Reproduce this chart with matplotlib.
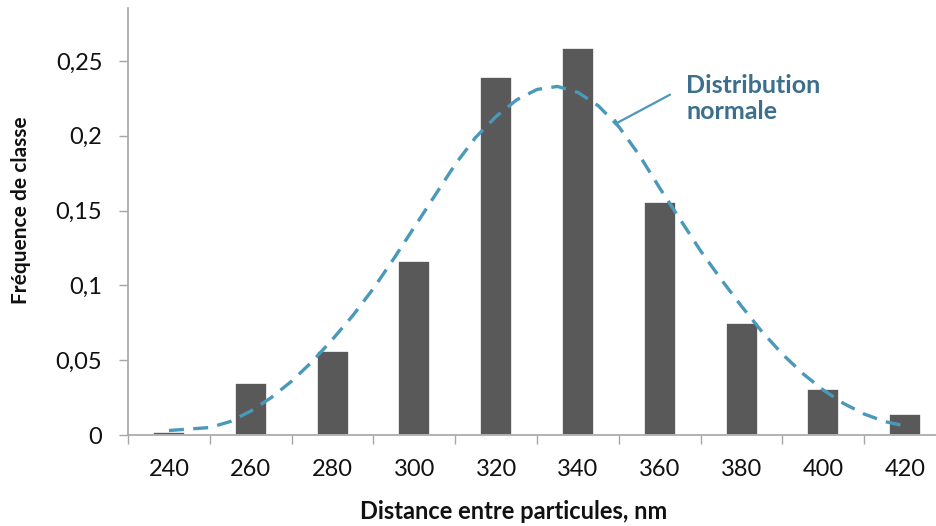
import matplotlib
matplotlib.use("Agg")
import matplotlib.pyplot as plt

# Class centres (nm) and class frequency
distances = [240, 260, 280, 300, 320, 340, 360, 380, 400, 420]
frequences = [0.002, 0.035, 0.056, 0.116, 0.239, 0.259, 0.156, 0.075, 0.031, 0.014]

# Normal distribution curve, every 5 nm
courbe_x = [240, 245, 250, 255, 260, 265, 270, 275, 280, 285, 290, 295, 300,
            305, 310, 315, 320, 325, 330, 335, 340, 345, 350, 355, 360, 365,
            370, 375, 380, 385, 390, 395, 400, 405, 410, 415, 420]
courbe_y = [0.003, 0.004, 0.005, 0.009, 0.016, 0.025, 0.036, 0.049, 0.064,
            0.080, 0.098, 0.118, 0.139, 0.160, 0.181, 0.199, 0.213, 0.224,
            0.231, 0.233, 0.229, 0.220, 0.206, 0.187, 0.165, 0.144, 0.123,
            0.104, 0.086, 0.069, 0.054, 0.041, 0.030, 0.021, 0.014, 0.009, 0.006]

y_ticks = [0, 0.05, 0.1, 0.15, 0.2, 0.25]
y_labels = ["0", "0,05", "0,1", "0,15", "0,2", "0,25"]

plt.rcParams['font.family'] = ['Lato', 'DejaVu Sans']

fig = plt.figure(figsize=(9.36, 5.26), dpi=100)
ax = fig.add_axes([0.1368, 0.173, 0.874, 0.812])

ax.bar(distances, frequences, width=7.8, color='#595959',
       edgecolor='white', linewidth=1.2, zorder=2)
ax.plot(courbe_x, courbe_y, color='#4A98BA', lw=2.4,
        dashes=(4.5, 2.8), zorder=3)

ax.set_xlim(230, 430)
ax.set_ylim(0, 0.2855)

ax.set_xticks(distances)
ax.set_xticklabels([str(d) for d in distances], fontsize=17, color='#111111')
ax.set_xticks([230 + 20 * k for k in range(11)], minor=True)
ax.tick_params(axis='x', which='major', length=0, pad=17)
ax.tick_params(axis='x', which='minor', length=6.5, color='#A6A6A6', width=1)
ax.set_yticks(y_ticks)
ax.set_yticklabels(y_labels, fontsize=17, color='#111111')
ax.tick_params(axis='y', length=6.5, color='#A6A6A6', width=1, pad=12)

for s in ['top', 'right']:
    ax.spines[s].set_visible(False)
for s in ['left', 'bottom']:
    ax.spines[s].set_color('#A6A6A6')
    ax.spines[s].set_linewidth(1.2)

fig.text(0.5486, 0.027, "Distance entre particules, nm", fontsize=17,
         fontweight='bold', ha='center', va='center', color='#111111')
fig.text(0.022, 0.60, "Fréquence de classe", fontsize=15, fontweight='bold',
         rotation=90, ha='center', va='center', color='#111111')

# label with leader line
ax.annotate("", xy=(349.5, 0.2085), xytext=(362.5, 0.2275),
            arrowprops=dict(arrowstyle='-[, widthB=0.25, lengthB=0.0',
                            color='#4A98BA', lw=1.6, shrinkA=0, shrinkB=0))
fig.text(0.733, 0.812, "Distribution\nnormale", fontsize=18, fontweight='bold',
         color='#3C6F8E', ha='left', va='center', linespacing=1.15)

fig.savefig("out.png", dpi=100)
